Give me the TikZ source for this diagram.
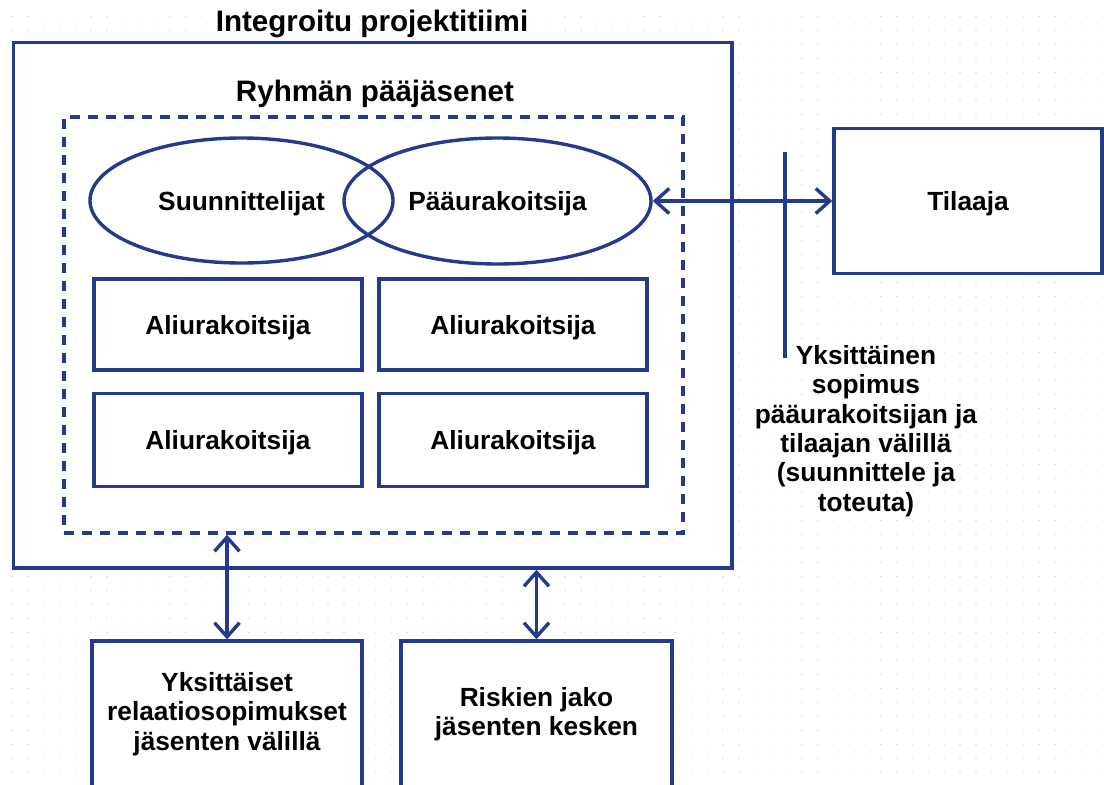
\documentclass[tikz,border=0pt]{standalone}
\usepackage{fontspec}
\setmainfont{Liberation Sans}
\usetikzlibrary{arrows.meta,shapes.geometric}
\definecolor{frame}{RGB}{36,58,138}
\definecolor{griddot}{RGB}{222,222,222}
\begin{document}
\begin{tikzpicture}[x=1pt,y=-1pt,
  box/.style={draw=frame, line width=3.4pt, fill=white, rectangle, inner sep=0pt},
  oval/.style={draw=frame, line width=3.4pt, ellipse, inner sep=0pt},
  lbl/.style={font=\bfseries\fontsize{26.3}{29.3}\selectfont, align=center, text=black},
  one/.style={text depth=0pt},
  ttl/.style={font=\bfseries\fontsize{29.6}{33}\selectfont, text=black},
  link/.style={draw=frame, line width=3.4pt,
    {Straight Barb[length=14pt,width=25pt]}-{Straight Barb[length=14pt,width=25pt]}},
]
\clip (0,0) rectangle (1104,785);
\fill[white] (0,0) rectangle (1104,785);
% faint dotted backdrop
\foreach \i in {0,...,69}{\foreach \j in {0,...,55}{%
  \fill[griddot] ({11.4+15.8*\i},{15.7+14*\j}) rectangle ++(1.4,1.4);}}

% integrated project team
\node[box, minimum width=718.5pt, minimum height=525.5pt] (outer) at (372.75,305.25) {};
\node[ttl, anchor=base] (title) at (372,31.7) {Integroitu projektitiimi};

% core members
\node[box, fill=none, dash pattern=on 10pt off 8pt, minimum width=619pt, minimum height=416pt] (core) at (373.5,325) {};
\node[ttl, anchor=base] (coretitle) at (375,101.5) {Ryhmän pääjäsenet};

\node[oval, lbl, one, minimum width=303pt, minimum height=125pt] (des) at (241.5,200.5) {Suunnittelijat};
\node[oval, lbl, one, minimum width=307pt, minimum height=126pt] (main) at (497.5,201) {Pääurakoitsija};

\node[box, lbl, one, minimum width=268pt, minimum height=91pt] (s1) at (228,324.5) {Aliurakoitsija};
\node[box, lbl, one, minimum width=268pt, minimum height=91pt] (s2) at (513,324.5) {Aliurakoitsija};
\node[box, lbl, one, minimum width=268pt, minimum height=93pt] (s3) at (228,440) {Aliurakoitsija};
\node[box, lbl, one, minimum width=268pt, minimum height=93pt] (s4) at (513,440) {Aliurakoitsija};

% client and contract
\node[box, lbl, one, minimum width=268pt, minimum height=145pt] (client) at (968,201) {Tilaaja};
\coordinate (ctop) at (785,152);
\coordinate (cbot) at (785,358);
\draw[frame, line width=3.4pt] (ctop) -- (cbot);
\node[lbl] (note) at (866,431) {Yksittäinen\\sopimus\\pääurakoitsijan ja\\tilaajan välillä\\(suunnittele ja\\toteuta)};

% agreements below the team
\node[box, lbl, minimum width=270pt, minimum height=146pt] (rel) at (227,714) {Yksittäiset\\relaatiosopimukset\\jäsenten välillä};
\node[box, lbl, minimum width=271pt, minimum height=146pt] (risk) at (536.5,714) {Riskien jako\\jäsenten kesken};

% connectors
\draw[link] (main.east) -- (client.west);
\draw[link] (core.south -| rel.north) -- (rel.north);
\draw[link] (outer.south -| risk.north) -- (risk.north);
\end{tikzpicture}
\end{document}
